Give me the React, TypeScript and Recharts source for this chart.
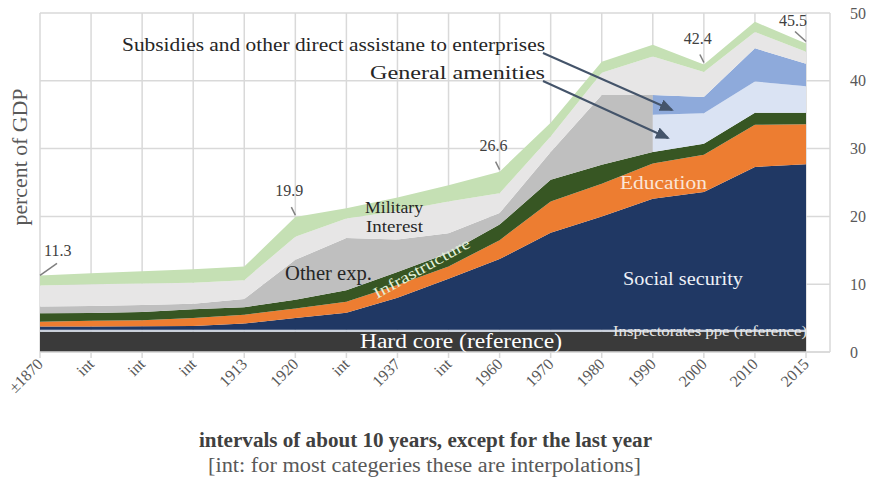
import React from "react";
import { AreaChart, Area, XAxis, YAxis, CartesianGrid, LabelList } from "recharts";

const SERIF = '"Liberation Serif", "DejaVu Serif", serif';

// category labels (int = interpolated)
const categories = ["±1870", "int", "int", "int", "1913", "1920", "int", "1937", "int", "1960", "1970", "1980", "1990", "2000", "2010", "2015"];

// layer values, percent of GDP, bottom to top
const hardCore = [3.0, 3.0, 3.0, 3.0, 3.0, 3.0, 3.0, 3.0, 3.0, 3.0, 3.0, 3.0, 3.0, 3.0, 3.0, 3.0];
const inspectorates = [0.3, 0.3, 0.3, 0.3, 0.3, 0.3, 0.3, 0.3, 0.3, 0.3, 0.3, 0.3, 0.3, 0.3, 0.3, 0.3];
const socialSecurity = [0.45, 0.45, 0.5, 0.55, 0.9, 1.7, 2.5, 4.7, 7.5, 10.4, 14.3, 16.7, 19.3, 20.3, 24.0, 24.4];
const education = [0.7, 0.85, 0.9, 1.15, 1.3, 1.4, 1.6, 1.9, 1.8, 2.8, 4.6, 4.8, 5.2, 5.5, 6.2, 5.9];
const infrastructure = [1.25, 1.15, 1.2, 1.3, 1.1, 1.3, 1.7, 1.9, 2.0, 2.3, 3.2, 2.8, 1.7, 1.6, 1.8, 1.7];
const otherExp = [1.0, 1.05, 1.05, 0.8, 1.2, 5.9, 7.7, 4.8, 2.9, 1.7, 4.1, 10.3, 8.4, null, null, null];
const amenities = [null, null, null, null, null, null, null, null, null, null, null, null, 5.5, 4.5, 4.6, 3.9];
const subsidies = [null, null, null, null, null, null, null, null, null, null, null, null, 2.9, 2.4, 4.9, 3.3];
const interest = [3.1, 3.2, 3.15, 3.1, 2.8, 3.4, 2.9, 4.2, 4.7, 2.9, 2.3, 3.3, 5.7, 3.7, 2.4, 1.8];
const military = [1.5, 1.6, 1.8, 2.0, 2.0, 2.9, 1.5, 2.0, 2.4, 3.2, 2.0, 1.6, 1.7, 1.1, 1.5, 1.2];

// printed totals
const totalLabels = [11.3, null, null, null, null, 19.9, null, null, null, 26.6, null, null, null, 42.4, null, 45.5];

// build rows; where "other exp." hands over to amenities/subsidies the point is doubled
// so the switch shows as a vertical edge
const rows: any[] = [];
categories.forEach((_, i) => {
  const base = {
    pos: i,
    hardCore: hardCore[i],
    inspectorates: inspectorates[i],
    socialSecurity: socialSecurity[i],
    education: education[i],
    infrastructure: infrastructure[i],
    interest: interest[i],
    military: military[i],
    total: totalLabels[i],
  };
  if (otherExp[i] != null && amenities[i] != null) {
    rows.push({ ...base, otherExp: otherExp[i], amenities: 0, subsidies: 0, total: null });
    rows.push({ ...base, otherExp: 0, amenities: amenities[i], subsidies: subsidies[i] });
  } else {
    rows.push({ ...base, otherExp: otherExp[i] ?? 0, amenities: amenities[i] ?? 0, subsidies: subsidies[i] ?? 0 });
  }
});

const layers = [
  { key: "hardCore", color: "#3a3a3a" },
  { key: "inspectorates", color: "#c9d0dc" },
  { key: "socialSecurity", color: "#203864" },
  { key: "education", color: "#ed7d31" },
  { key: "infrastructure", color: "#375623" },
  { key: "otherExp", color: "#bfbfbf" },
  { key: "amenities", color: "#dae3f3" },
  { key: "subsidies", color: "#8eaadb" },
  { key: "interest", color: "#e7e6e6" },
  { key: "military", color: "#c5e0b4" },
];

const XTick = (props: any) => {
  const { x, y, payload } = props;
  const tx = x + 4;
  const ty = y + 5;
  return (
    <text x={tx} y={ty} transform={`rotate(-45 ${tx} ${ty})`} textAnchor="end" fontSize={16} fill="#595959" fontFamily={SERIF}>
      {categories[payload.value]}
    </text>
  );
};

// total label with a short leader line above the top of the stack
const TotalLabel = (props: any) => {
  const { x, y, value } = props;
  if (value == null || x == null) return null;
  if (x < 60) {
    return (
      <g>
        <line x1={x} y1={y} x2={x + 17} y2={y - 12} stroke="#7f7f7f" strokeWidth={1.5} />
        <text x={x + 4} y={y - 19} fontSize={16} fill="#404040" fontFamily={SERIF}>{value}</text>
      </g>
    );
  }
  const last = x > 790;
  const dx = last ? -11 : -4;
  const dy = last ? -12 : -10;
  return (
    <g>
      <line x1={x} y1={y - 2} x2={x + dx} y2={y + dy} stroke="#7f7f7f" strokeWidth={1.5} />
      <text x={x + dx - 2} y={y + dy - (last ? 6 : 11)} textAnchor="middle" fontSize={16} fill="#404040" fontFamily={SERIF}>{value}</text>
    </g>
  );
};

const fit = { lengthAdjust: "spacingAndGlyphs" as const };

export default function App() {
  return (
    <div style={{ position: "absolute", left: 0, top: 0, width: 880, height: 482, background: "#fff", fontFamily: SERIF }}>
      <AreaChart width={880} height={482} data={rows} margin={{ top: 13, right: 0, bottom: 0, left: 40 }}>
        <CartesianGrid stroke="#d9d9d9" strokeWidth={1.5} />
        <XAxis
          dataKey="pos"
          type="number"
          domain={[0, 15]}
          ticks={[0, 1, 2, 3, 4, 5, 6, 7, 8, 9, 10, 11, 12, 13, 14, 15]}
          padding={{ left: 0, right: 24 }}
          height={130}
          axisLine={{ stroke: "#d9d9d9", strokeWidth: 1.5 }}
          tickLine={{ stroke: "#d9d9d9", strokeWidth: 1.5 }}
          tickSize={6}
          tick={<XTick />}
          interval={0}
        />
        <YAxis
          orientation="right"
          domain={[0, 50]}
          ticks={[0, 10, 20, 30, 40, 50]}
          width={50}
          axisLine={false}
          tickLine={false}
          tickSize={6}
          tickMargin={14}
          tick={{ fontSize: 16, fill: "#595959", fontFamily: SERIF, textAnchor: "start" }}
        />
        {layers.map((l) => (
          <Area
            key={l.key}
            dataKey={l.key}
            stackId="a"
            type="linear"
            stroke="none"
            fill={l.color}
            fillOpacity={1}
            isAnimationActive={false}
          >
            {l.key === "military" ? <LabelList dataKey="total" content={<TotalLabel />} /> : null}
          </Area>
        ))}
      </AreaChart>

      <svg width={880} height={482} style={{ position: "absolute", left: 0, top: 0, pointerEvents: "none" }} fontFamily={SERIF}>
        <defs>
          <marker id="arrowHead" markerWidth="14" markerHeight="12" refX="12" refY="6" orient="auto" markerUnits="userSpaceOnUse">
            <path d="M0,0 L14,6 L0,12 Z" fill="#44546a" />
          </marker>
        </defs>
        <text x={122} y={51} fontSize={19} fill="#262626" textLength={423} {...fit}>Subsidies and other direct assistane to enterprises</text>
        <text x={370} y={79} fontSize={19} fill="#262626" textLength={175} {...fit}>General amenities</text>
        <line x1={543} y1={53} x2={672} y2={110} stroke="#44546a" strokeWidth={2} markerEnd="url(#arrowHead)" />
        <line x1={543} y1={81} x2={668} y2={138} stroke="#44546a" strokeWidth={2} markerEnd="url(#arrowHead)" />

        <text x={365} y={213} fontSize={17} fill="#262626" textLength={58} {...fit}>Military</text>
        <text x={366} y={232} fontSize={17} fill="#262626" textLength={57} {...fit}>Interest</text>
        <text x={285} y={280} fontSize={20} fill="#262626" textLength={87} {...fit}>Other exp.</text>
        <text x={377} y={299} fontSize={16} fill="#e2f0d9" textLength={108} {...fit} transform="rotate(-29 377 299)">Infrastructure</text>
        <text x={620} y={189} fontSize={19} fill="#fbe5d6" textLength={87} {...fit}>Education</text>
        <text x={623} y={285} fontSize={19} fill="#eef1f7" textLength={120} {...fit}>Social security</text>
        <text x={360} y={348} fontSize={20} fill="#ffffff" textLength={202} {...fit}>Hard core (reference)</text>
        <text x={613} y={336} fontSize={15} fill="#e6e6e6" textLength={194} {...fit}>Inspectorates ppe (reference)</text>

        <text x={20} y={157} fontSize={21} fill="#595959" textAnchor="middle" transform="rotate(-90 20 157)" dominantBaseline="central" textLength={137} {...fit}>percent of GDP</text>
        <text x={199} y={447} fontSize={20} fill="#404040" fontWeight={600} textLength={453} {...fit}>intervals of about 10 years, except for the last year</text>
        <text x={208} y={472} fontSize={20} fill="#595959" textLength={433} {...fit}>[int: for most categeries these are interpolations]</text>
      </svg>
    </div>
  );
}
